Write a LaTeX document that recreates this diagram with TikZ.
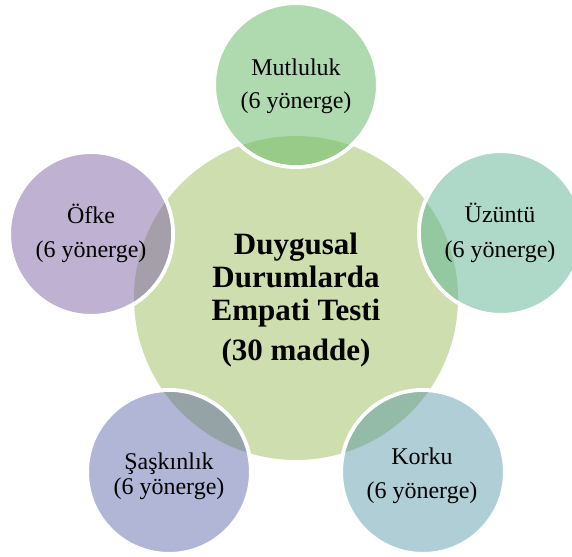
\documentclass[tikz,border=0pt]{standalone}
\usepackage{fontspec}
\setmainfont{Liberation Serif}
\definecolor{cCen}{HTML}{CFDEAE}
\definecolor{cMut}{HTML}{AFDAAF}
\definecolor{oMut}{HTML}{98CA88}
\definecolor{cUzu}{HTML}{AED8C8}
\definecolor{oUzu}{HTML}{94C8A0}
\definecolor{cKor}{HTML}{B0CED6}
\definecolor{oKor}{HTML}{93BBA8}
\definecolor{cSas}{HTML}{B1B5D6}
\definecolor{oSas}{HTML}{95A2A6}
\definecolor{cOfk}{HTML}{BEB1D2}
\definecolor{oOfk}{HTML}{A59FA9}
\begin{document}
\begin{tikzpicture}[x=1pt,y=-1pt,
  satcircle/.style={circle, minimum size=164pt, inner sep=0pt, draw=white, line width=4pt},
  cencircle/.style={circle, minimum size=324pt, inner sep=0pt},
  lbl/.style={anchor=base, inner sep=0pt, font=\fontsize{24}{28}\selectfont},
  biglbl/.style={anchor=base, inner sep=0pt, font=\fontsize{31}{36}\selectfont\bfseries}]
\path[use as bounding box] (0,0) rectangle (572,556);
\clip (0,0) rectangle (572,556);
\node[cencircle, fill=cCen] (cen) at (296,298) {};
% satellites
\node[satcircle, fill=cMut] (mut) at (296,85) {};
\node[satcircle, fill=cUzu] (uzu) at (501,233) {};
\node[satcircle, fill=cKor] (kor) at (423,472) {};
\node[satcircle, fill=cSas] (sas) at (169,472) {};
\node[satcircle, fill=cOfk] (ofk) at (91,234) {};
% overlaps
\begin{scope}\clip (mut.center) circle (80); \fill[oMut] (cen.center) circle (162);\end{scope}
\begin{scope}\clip (uzu.center) circle (80); \fill[oUzu] (cen.center) circle (162);\end{scope}
\begin{scope}\clip (kor.center) circle (80); \fill[oKor] (cen.center) circle (162);\end{scope}
\begin{scope}\clip (sas.center) circle (80); \fill[oSas] (cen.center) circle (162);\end{scope}
\begin{scope}\clip (ofk.center) circle (80); \fill[oOfk] (cen.center) circle (162);\end{scope}
% texts
\node[biglbl] (cenA) at (296,254) {Duygusal};
\node[biglbl] (cenB) at (296,287) {Durumlarda};
\node[biglbl] (cenC) at (296,320) {Empati Testi};
\node[biglbl] (cenD) at (296,360) {(30 madde)};
\node[lbl] (mutA) at (296,76) {Mutluluk};
\node[lbl] (mutB) at (296,109) {(6 yönerge)};
\node[lbl] (uzuA) at (500,222) {Üzüntü};
\node[lbl] (uzuB) at (500,257) {(6 yönerge)};
\node[lbl] (korA) at (422,464) {Korku};
\node[lbl] (korB) at (422,498) {(6 yönerge)};
\node[lbl] (sasA) at (169,469) {Şaşkınlık};
\node[lbl] (sasB) at (169,494) {(6 yönerge)};
\node[lbl] (ofkA) at (91,223) {Öfke};
\node[lbl] (ofkB) at (91,257) {(6 yönerge)};
\end{tikzpicture}
\end{document}
